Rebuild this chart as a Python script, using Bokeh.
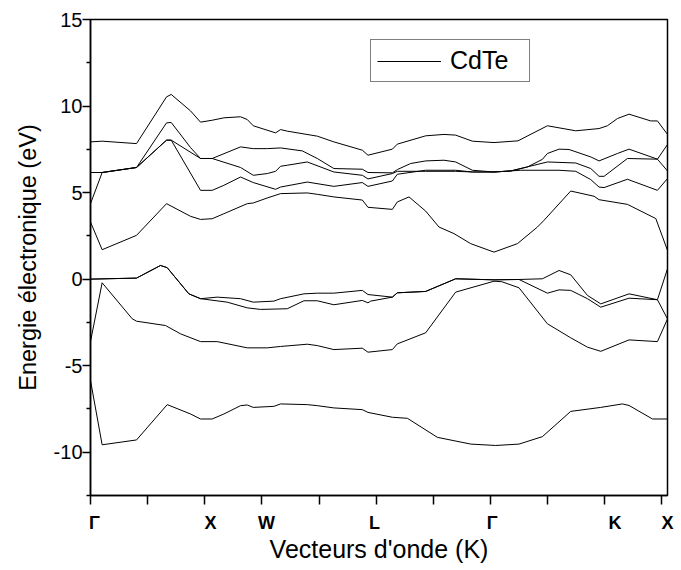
from bokeh.plotting import figure
from bokeh.models import FixedTicker, Legend, LegendItem, Range1d
from bokeh.embed import file_html
from bokeh.resources import INLINE

# ---- Data: wave-vector path coordinate (k) and energies (eV) per band ----
k_c5 = [0, 0.204, 0.806, 1.331, 1.413, 1.751, 1.926, 2.13, 2.335, 2.627, 2.744, 2.849, 3.24, 3.327,
        3.444, 3.97, 4.26, 4.758, 4.857, 5.284, 5.371, 5.867, 6.188, 6.392, 6.685, 7.063, 7.483,
        7.998, 8.494, 8.902, 9.048, 9.224, 9.427, 9.807, 9.924, 10.1]
e_c5 = [7.93, 7.97, 7.83, 10.53, 10.67, 9.72, 9.07, 9.18, 9.32, 9.38, 9.22, 8.86, 8.45, 8.64,
        8.55, 8.26, 7.93, 7.45, 7.16, 7.51, 7.80, 8.28, 8.36, 8.32, 7.97, 7.89, 7.99,
        8.86, 8.57, 8.70, 8.86, 9.28, 9.53, 9.14, 9.14, 8.36]

k_c4 = [0, 0.204, 0.806, 1.331, 1.413, 1.751, 1.926, 2.13, 2.627, 2.849, 3.094, 3.327, 3.707, 3.97,
        4.26, 4.758, 4.857, 5.284, 5.371, 5.604, 5.867, 6.188, 6.392, 6.685, 7.063, 7.356, 7.648,
        7.91, 7.998, 8.202, 8.377, 8.757, 8.902, 9.224, 9.427, 9.924, 10.1]
e_c4 = [6.16, 6.16, 6.45, 9.03, 9.05, 7.60, 6.97, 6.97, 7.64, 7.54, 7.54, 7.58, 7.41, 6.97,
        6.39, 6.35, 6.16, 6.14, 6.33, 6.68, 6.83, 6.87, 6.77, 6.29, 6.19, 6.25, 6.48,
        6.92, 7.26, 7.51, 7.49, 7.06, 6.83, 7.26, 7.51, 6.93, 7.78]

k_c3 = [0, 0.204, 0.806, 1.331, 1.413, 1.926, 2.13, 2.627, 2.849, 3.094, 3.24, 3.327, 3.444, 3.795,
        4.26, 4.758, 4.857, 5.284, 5.371, 5.867, 6.392, 6.685, 7.063, 7.356, 7.998, 8.494, 8.757,
        8.902, 8.99, 9.399, 9.924, 10.1]
e_c3 = [6.16, 6.16, 6.45, 8.03, 8.03, 6.97, 6.97, 6.45, 6.00, 6.10, 6.23, 6.52, 6.58, 6.77,
        6.19, 6.00, 5.79, 6.10, 6.23, 6.23, 6.23, 6.19, 6.19, 6.25, 6.77, 6.71, 6.39,
        5.94, 5.94, 6.97, 6.93, 6.25]

k_c2 = [0, 0.204, 0.806, 1.331, 1.413, 1.926, 2.13, 2.335, 2.627, 2.849, 3.24, 3.327, 3.795, 4.26,
        4.758, 4.857, 5.284, 5.371, 5.867, 6.392, 6.685, 7.063, 7.531, 8.202, 8.494, 8.757, 8.902,
        8.99, 9.399, 9.924, 10.1]
e_c2 = [4.36, 6.16, 6.45, 8.03, 8.03, 5.13, 5.13, 5.42, 5.90, 5.58, 5.19, 5.32, 5.61, 5.36,
        5.58, 5.36, 5.67, 6.06, 6.29, 6.29, 6.19, 6.19, 6.29, 6.29, 6.23, 5.75, 5.32,
        5.29, 5.77, 5.13, 5.81]

k_c1 = [0, 0.204, 0.806, 1.331, 1.751, 1.926, 2.13, 2.335, 2.744, 2.849, 3.094, 3.327, 3.795, 3.97,
        4.26, 4.758, 4.857, 5.284, 5.371, 5.575, 5.867, 6.10, 6.363, 6.655, 7.063, 7.473, 7.823,
        7.939, 8.406, 8.814, 8.902, 9.399, 9.895, 10.1]
e_c1 = [3.30, 1.70, 2.53, 4.36, 3.63, 3.45, 3.49, 3.78, 4.36, 4.40, 4.69, 4.94, 4.98, 4.90,
        4.75, 4.57, 4.15, 4.03, 4.46, 4.75, 3.93, 3.01, 2.63, 2.05, 1.56, 2.05, 3.01,
        3.40, 5.09, 4.79, 4.59, 4.32, 3.50, 1.66]

k_v4 = [0, 0.806, 1.226, 1.343, 1.722, 1.926, 2.218, 2.627, 2.849, 3.21, 3.327, 3.736, 3.97, 4.26,
        4.758, 4.857, 5.284, 5.371, 5.867, 6.392, 7.063, 7.501, 7.91, 8.202, 8.406, 8.699, 8.932,
        9.427, 9.924, 10.1]
e_v4 = [0.00, 0.06, 0.79, 0.66, -0.85, -1.13, -1.04, -1.13, -1.33, -1.27, -1.13, -0.85, -0.81, -0.81,
        -0.65, -0.89, -1.04, -0.79, -0.71, 0.02, -0.04, -0.02, 0.02, 0.50, 0.25, -0.94, -1.43,
        -0.85, -1.19, 0.60]

k_v3 = [0, 0.806, 1.226, 1.343, 1.722, 1.926, 2.393, 2.744, 2.977, 3.444, 3.736, 3.97, 4.26, 4.758,
        4.857, 4.904, 5.284, 5.371, 5.867, 6.392, 7.063, 7.501, 7.998, 8.202, 8.406, 8.699, 8.932,
        9.427, 9.924, 10.1]
e_v3 = [0.00, 0.06, 0.79, 0.66, -0.85, -1.13, -1.33, -1.66, -1.75, -1.71, -1.25, -1.25, -1.48, -1.23,
        -1.37, -1.27, -1.04, -0.79, -0.71, 0.02, -0.04, -0.02, -0.81, -0.62, -0.65, -1.13, -1.62,
        -1.10, -1.19, -2.30]

k_v2 = [0, 0.204, 0.73, 0.806, 1.313, 1.576, 1.926, 2.218, 2.744, 3.094, 3.327, 3.795, 3.97, 4.26,
        4.758, 4.857, 5.284, 5.371, 5.867, 6.392, 7.063, 7.2, 7.501, 7.998, 8.406, 8.699, 8.932,
        9.427, 9.924, 10.1]
e_v2 = [-3.60, -0.21, -2.29, -2.43, -2.68, -3.16, -3.61, -3.61, -3.97, -3.97, -3.89, -3.76, -3.84, -4.07,
        -3.99, -4.22, -4.07, -3.74, -3.10, -0.75, -0.12, -0.15, -0.50, -2.58, -3.39, -3.93, -4.17,
        -3.51, -3.61, -2.30]

k_v1 = [0, 0.204, 0.806, 1.343, 1.751, 1.926, 2.13, 2.335, 2.627, 2.744, 2.849, 3.21, 3.327, 3.795,
        3.97, 4.26, 4.758, 4.857, 5.284, 5.547, 6.072, 6.655, 7.093, 7.501, 7.91, 8.406, 8.932,
        9.311, 9.427, 9.837, 10.1]
e_v1 = [-5.86, -9.57, -9.29, -7.25, -7.79, -8.08, -8.08, -7.79, -7.31, -7.27, -7.41, -7.35, -7.21, -7.25,
        -7.31, -7.44, -7.54, -7.70, -7.98, -8.04, -9.14, -9.53, -9.61, -9.53, -9.10, -7.64, -7.41,
        -7.21, -7.30, -8.08, -8.08]

bands = [(k_v1, e_v1), (k_v2, e_v2), (k_v3, e_v3), (k_v4, e_v4),
         (k_c1, e_c1), (k_c2, e_c2), (k_c3, e_c3), (k_c4, e_c4), (k_c5, e_c5)]

# High-symmetry point labels and their positions along the path
sym_labels = ["\u0393", "X", "W", "L", "\u0393", "K", "X"]
sym_pos = [0.07, 2.10, 3.08, 4.97, 7.03, 9.18, 10.099]

x_ticks = [0, 1, 2, 3, 4, 5, 6, 7, 8, 9, 10]
y_ticks = [-10, -5, 0, 5, 10, 15]
y_tick_labels = ["-10", "-5", "0", "5", "10", "15"]
y_minor = [-12.5, -7.5, -2.5, 2.5, 7.5, 12.5]

FONT = "Liberation Sans"

p = figure(width=681, height=570, x_range=Range1d(0, 10.1), y_range=Range1d(-12.5, 15),
           output_backend="svg", toolbar_location=None,
           min_border_left=90, min_border_right=14, min_border_top=19, min_border_bottom=75)
p.grid.visible = False
p.outline_line_color = "black"
p.outline_line_width = 1.5
p.background_fill_color = "white"
p.border_fill_color = "white"

renderers = []
for kx, ey in bands:
    r = p.line(kx, ey, line_color="black", line_width=1)
    renderers.append(r)

# Left axis
ya = p.yaxis[0]
ya.ticker = FixedTicker(ticks=y_ticks, minor_ticks=y_minor)
ya.major_label_overrides = {v: t for v, t in zip(y_ticks, y_tick_labels)}
ya.axis_line_width = 1.5
ya.major_tick_in = 0
ya.major_tick_out = 8
ya.minor_tick_in = 0
ya.minor_tick_out = 4
ya.major_tick_line_width = 1.5
ya.minor_tick_line_width = 1.5
ya.major_label_text_font = FONT
ya.major_label_text_font_size = "20px"
ya.major_label_text_color = "black"
ya.major_label_standoff = 0
ya.axis_label = "Energie \u00e9lectronique (eV)"
ya.axis_label_text_font = FONT
ya.axis_label_text_font_size = "23.5px"
ya.axis_label_text_font_style = "normal"
ya.axis_label_text_color = "black"
ya.axis_label_standoff = 10

# Bottom axis: ticks as minor ticks at equal steps, labels at the symmetry points
xa = p.xaxis[0]
xa.ticker = FixedTicker(ticks=sym_pos, minor_ticks=x_ticks)
xa.major_label_overrides = {v: t for v, t in zip(sym_pos, sym_labels)}
xa.axis_line_width = 1.5
xa.major_tick_in = 0
xa.major_tick_out = 0
xa.minor_tick_in = 0
xa.minor_tick_out = 9
xa.minor_tick_line_width = 1.5
xa.major_label_text_font = FONT
xa.major_label_text_font_size = "18px"
xa.major_label_text_font_style = "bold"
xa.major_label_text_color = "black"
xa.major_label_standoff = 8
xa.axis_label = "Vecteurs d'onde (K)"
xa.axis_label_text_font = FONT
xa.axis_label_text_font_size = "25px"
xa.axis_label_text_font_style = "normal"
xa.axis_label_text_color = "black"
xa.axis_label_standoff = -1

legend = Legend(items=[LegendItem(label="CdTe", renderers=[renderers[0]])],
                location=(280, 413))
legend.label_text_font = FONT
legend.label_text_font_size = "25px"
legend.label_text_color = "black"
legend.glyph_width = 64
legend.glyph_height = 20
legend.label_standoff = 9
legend.label_width = 73
legend.padding = 6
legend.spacing = 0
legend.margin = 0
legend.border_line_color = "black"
legend.border_line_width = 1
legend.background_fill_color = "white"
legend.background_fill_alpha = 1
p.add_layout(legend)

open("out.html", "w").write(file_html(p, INLINE))
